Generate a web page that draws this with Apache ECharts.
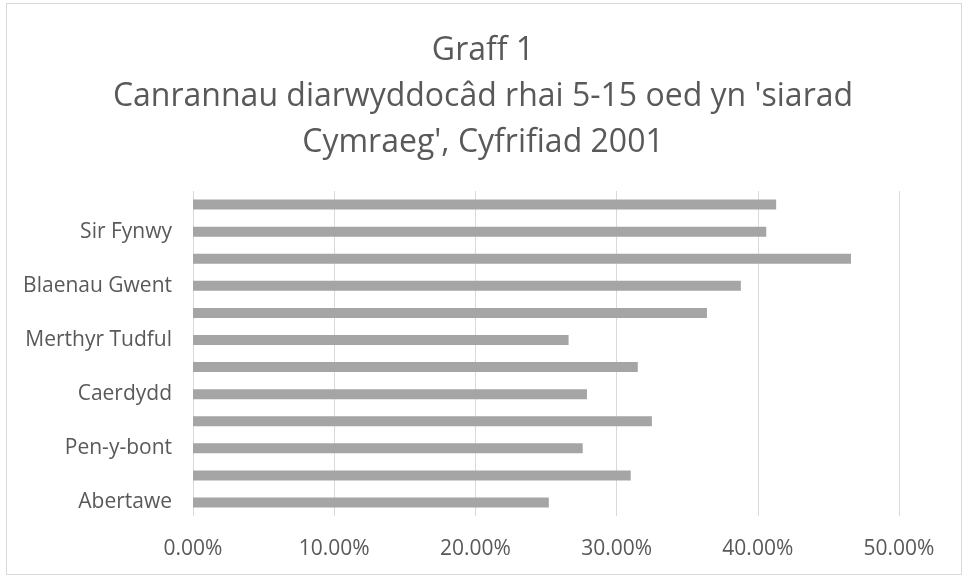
<!DOCTYPE html>
<html>
<head>
<meta charset="utf-8">
<script src="https://cdn.jsdelivr.net/npm/echarts@6/dist/echarts.min.js"></script>
<style>
html,body{margin:0;padding:0;background:#fff;}
#frame{position:absolute;left:6px;top:3px;width:956px;height:572px;border:1px solid #d9d9d9;box-sizing:border-box;}
#chart{position:absolute;left:0;top:0;width:966px;height:579px;}
</style>
</head>
<body>
<div id="frame"></div>
<div id="chart"></div>
<script>
const categories = ['Abertawe','Castell-nedd Port Talbot','Pen-y-bont','Bro Morgannwg','Caerdydd','Rhondda Cynon Taf','Merthyr Tudful','Caerffili','Blaenau Gwent','Torfaen','Sir Fynwy','Casnewydd'];
const values = [25.2, 31.0, 27.6, 32.5, 27.9, 31.5, 26.6, 36.4, 38.8, 46.6, 40.6, 41.3];
const titleText = "Graff 1\nCanrannau diarwyddocâd rhai 5-15 oed yn 'siarad\nCymraeg', Cyfrifiad 2001";

const chart = echarts.init(document.getElementById('chart'));
chart.setOption({
  animation: false,
  title: {
    text: titleText,
    left: 'center',
    top: 23,
    textStyle: {fontFamily: 'Open Sans', fontSize: 32, fontWeight: 'normal', color: '#595959', lineHeight: 46}
  },
  grid: {left: 193, right: 67, top: 191, bottom: 63, containLabel: false},
  xAxis: {
    type: 'value', min: 0, max: 50, interval: 10,
    axisLine: {show: false}, axisTick: {show: false},
    splitLine: {lineStyle: {color: '#d9d9d9', width: 1}},
    axisLabel: {formatter: v => v.toFixed(2) + '%', color: '#595959', fontFamily: 'Open Sans', fontSize: 21, margin: 23}
  },
  yAxis: {
    type: 'category', data: categories,
    axisLine: {show: false}, axisTick: {show: false},
    axisLabel: {interval: 1, color: '#595959', fontFamily: 'Open Sans', fontSize: 21, margin: 21}
  },
  series: [{
    type: 'bar', data: values, barWidth: 10,
    itemStyle: {color: '#a5a5a5'}
  }]
});
</script>
</body>
</html>
